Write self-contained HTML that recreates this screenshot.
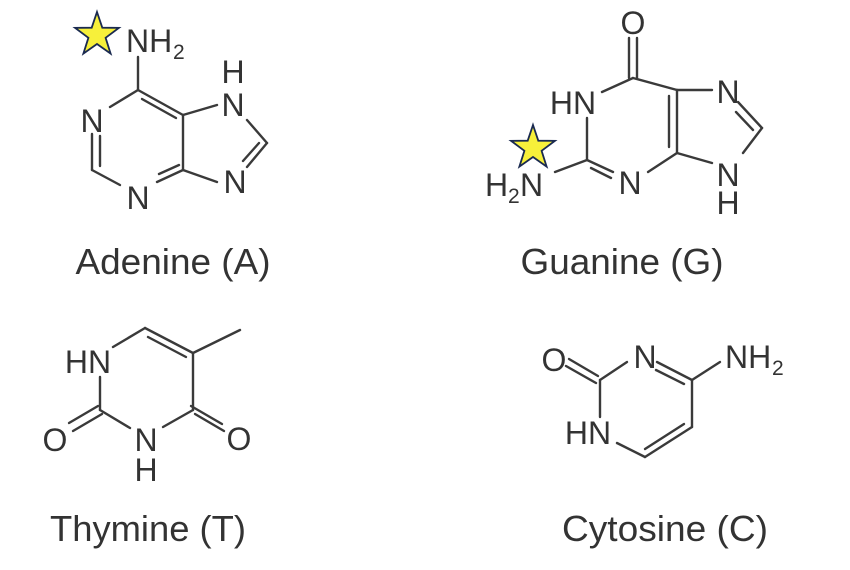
<!DOCTYPE html>
<html><head><meta charset="utf-8"><style>
html,body{margin:0;padding:0;background:#fff;}
svg{display:block;}
text{font-family:"Liberation Sans",Arial,sans-serif;fill:#333;}
.l{font-size:32px;}
.s{font-size:21px;}
.t{font-size:36px;}
line,polyline{stroke:#3a3a3a;stroke-width:2.4;fill:none;stroke-linecap:round;}
</style></head><body>
<svg width="850" height="570" viewBox="0 0 850 570">
<!-- Adenine -->
<polygon points="97,12 102.3,27.7 118.9,27.9 105.6,37.8 110.6,53.6 97,44 83.4,53.6 88.4,37.8 75.1,27.9 91.7,27.7" fill="#f7f03a" stroke="#1a2a50" stroke-width="1.8"/>
<text class="l" x="126" y="52">NH</text><text class="s" x="173" y="59">2</text>
<line x1="138" y1="57" x2="138" y2="90"/>
<line x1="138" y1="90" x2="110" y2="107"/>
<text class="l" x="92" y="132" text-anchor="middle">N</text>
<line x1="92" y1="134" x2="92" y2="170"/>
<line x1="100" y1="136" x2="100" y2="166"/>
<line x1="92" y1="170" x2="120" y2="185"/>
<text class="l" x="138" y="209" text-anchor="middle">N</text>
<line x1="157" y1="182" x2="183" y2="170"/>
<line x1="159" y1="174" x2="179" y2="165"/>
<line x1="183" y1="170" x2="183" y2="115"/>
<line x1="138" y1="90" x2="183" y2="115"/>
<line x1="142" y1="99" x2="176" y2="118"/>
<line x1="183" y1="115" x2="217" y2="105"/>
<text class="l" x="233" y="116" text-anchor="middle">N</text>
<text class="l" x="233" y="83" text-anchor="middle">H</text>
<line x1="247" y1="120" x2="267" y2="143"/>
<line x1="267" y1="143" x2="247" y2="167"/>
<line x1="259" y1="143" x2="243" y2="161"/>
<text class="l" x="235" y="193" text-anchor="middle">N</text>
<line x1="183" y1="170" x2="217" y2="182"/>
<text class="t" x="173" y="274" text-anchor="middle" textLength="195" lengthAdjust="spacingAndGlyphs">Adenine (A)</text>

<!-- Guanine -->
<text class="l" x="633" y="34" text-anchor="middle">O</text>
<line x1="629" y1="38" x2="629" y2="78"/>
<line x1="637" y1="38" x2="637" y2="78"/>
<line x1="633" y1="78" x2="602" y2="92"/>
<text class="l" x="573" y="114" text-anchor="middle">HN</text>
<line x1="633" y1="78" x2="677" y2="90"/>
<line x1="677" y1="90" x2="712" y2="90"/>
<text class="l" x="728" y="103" text-anchor="middle">N</text>
<line x1="677" y1="90" x2="677" y2="153"/>
<line x1="669" y1="96" x2="669" y2="147"/>
<line x1="677" y1="153" x2="712" y2="163"/>
<text class="l" x="728" y="186" text-anchor="middle">N</text>
<text class="l" x="728" y="214" text-anchor="middle">H</text>
<line x1="738" y1="102" x2="762" y2="128"/>
<line x1="736" y1="112" x2="753" y2="130"/>
<line x1="762" y1="128" x2="743" y2="153"/>
<line x1="587" y1="118" x2="587" y2="160"/>
<line x1="587" y1="160" x2="613" y2="172"/>
<line x1="591" y1="168" x2="611" y2="178"/>
<text class="l" x="630" y="194" text-anchor="middle">N</text>
<line x1="648" y1="172" x2="677" y2="153"/>
<line x1="587" y1="160" x2="555" y2="172"/>
<text class="l" x="485" y="196">H</text><text class="s" x="508" y="203">2</text><text class="l" x="520" y="196">N</text>
<polygon points="533,125 538.3,140.7 554.9,140.9 541.6,150.8 546.6,166.6 533,157 519.4,166.6 524.4,150.8 511.1,140.9 527.7,140.7" fill="#f7f03a" stroke="#1a2a50" stroke-width="1.8"/>
<text class="t" x="622" y="274" text-anchor="middle" textLength="203" lengthAdjust="spacingAndGlyphs">Guanine (G)</text>

<!-- Thymine -->
<text class="l" x="88" y="373" text-anchor="middle">HN</text>
<line x1="113" y1="347" x2="145" y2="328"/>
<line x1="145" y1="328" x2="193" y2="353"/>
<line x1="148" y1="337" x2="186" y2="357"/>
<line x1="193" y1="353" x2="240" y2="330"/>
<line x1="193" y1="353" x2="193" y2="410"/>
<line x1="191" y1="406" x2="222" y2="424"/>
<line x1="195" y1="414" x2="224" y2="431"/>
<text class="l" x="239" y="450" text-anchor="middle">O</text>
<line x1="193" y1="410" x2="163" y2="427"/>
<text class="l" x="146" y="451" text-anchor="middle">N</text>
<text class="l" x="146" y="481" text-anchor="middle">H</text>
<line x1="130" y1="428" x2="100" y2="410"/>
<line x1="100" y1="410" x2="100" y2="377"/>
<line x1="98" y1="406" x2="69" y2="423"/>
<line x1="102" y1="414" x2="73" y2="431"/>
<text class="l" x="55" y="451" text-anchor="middle">O</text>
<text class="t" x="148" y="541" text-anchor="middle" textLength="196" lengthAdjust="spacingAndGlyphs">Thymine (T)</text>

<!-- Cytosine -->
<text class="l" x="554" y="371" text-anchor="middle">O</text>
<line x1="569" y1="359" x2="598" y2="376"/>
<line x1="566" y1="366" x2="596" y2="383"/>
<line x1="600" y1="380" x2="627" y2="362"/>
<text class="l" x="645" y="368" text-anchor="middle">N</text>
<line x1="657" y1="362" x2="692" y2="380"/>
<line x1="656" y1="370" x2="684" y2="384"/>
<line x1="692" y1="380" x2="720" y2="362"/>
<text class="l" x="725" y="368">NH</text><text class="s" x="772" y="375">2</text>
<line x1="692" y1="380" x2="692" y2="427"/>
<line x1="692" y1="427" x2="645" y2="457"/>
<line x1="684" y1="424" x2="645" y2="449"/>
<line x1="645" y1="457" x2="617" y2="443"/>
<text class="l" x="588" y="444" text-anchor="middle">HN</text>
<line x1="600" y1="417" x2="600" y2="380"/>
<text class="t" x="665" y="541" text-anchor="middle" textLength="206" lengthAdjust="spacingAndGlyphs">Cytosine (C)</text>
</svg>
</body></html>
